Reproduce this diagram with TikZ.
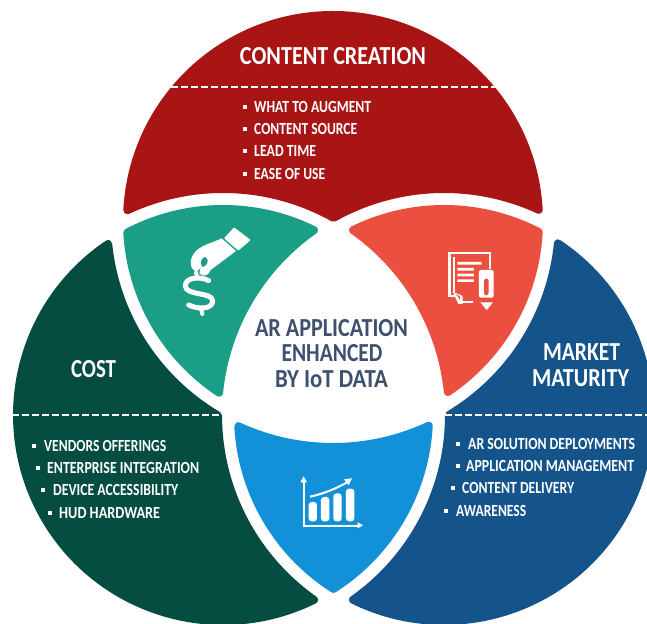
\documentclass[tikz,border=0pt]{standalone}
\usepackage{fontspec}
\usepackage{graphicx}
\setmainfont{Carlito}
\definecolor{cred}{HTML}{A91414}
\definecolor{cgreen}{HTML}{1A9E85}
\definecolor{corange}{HTML}{EB4F3F}
\definecolor{cblue}{HTML}{1291D9}
\definecolor{cdgreen}{HTML}{054D41}
\definecolor{cdblue}{HTML}{14548B}
\definecolor{ctext}{HTML}{3D5070}
% circle centres, in hundreds of pixels, y upward
\def\CTx{3.33}\def\CTy{4.02}
\def\CLx{2.23}\def\CLy{2.08}
\def\CRx{4.44}\def\CRy{2.08}
\def\rO{2.06}\def\rG{2.26}
\newcommand\Isect[6]{%
 \pgfmathsetmacro\ax{\csname C#2x\endcsname}\pgfmathsetmacro\ay{\csname C#2y\endcsname}%
 \pgfmathsetmacro\bx{\csname C#4x\endcsname}\pgfmathsetmacro\by{\csname C#4y\endcsname}%
 \pgfmathsetmacro\ddx{\bx-\ax}\pgfmathsetmacro\ddy{\by-\ay}%
 \pgfmathsetmacro\dd{sqrt(\ddx*\ddx+\ddy*\ddy)}%
 \pgfmathsetmacro\aa{(#3*#3-#5*#5+\dd*\dd)/(2*\dd)}%
 \pgfmathsetmacro\hh{sqrt(#3*#3-\aa*\aa)}%
 \pgfmathsetmacro\qx{\ax+\aa*\ddx/\dd-(#6)*\hh*\ddy/\dd}%
 \pgfmathsetmacro\qy{\ay+\aa*\ddy/\dd+(#6)*\hh*\ddx/\dd}%
 \expandafter\xdef\csname P#1x\endcsname{\qx}%
 \expandafter\xdef\csname P#1y\endcsname{\qy}}
\newcommand\Seg[5]{%
 \pgfmathsetmacro\aone{atan2(\csname P#3y\endcsname-\csname C#1y\endcsname,\csname P#3x\endcsname-\csname C#1x\endcsname)}%
 \pgfmathsetmacro\atwo{atan2(\csname P#4y\endcsname-\csname C#1y\endcsname,\csname P#4x\endcsname-\csname C#1x\endcsname)}%
 \pgfmathsetmacro\atwo{#5>0 ? (\atwo<\aone ? \atwo+360 : \atwo) : (\atwo>\aone ? \atwo-360 : \atwo)}%
 \xdef\pth{\pth arc[start angle=\aone,end angle=\atwo,radius=#2]}}
\newcommand\Region[2]{\fill[#1,draw=#1,line width=8pt,line join=round] (\csname P#2x\endcsname,\csname P#2y\endcsname) \pth -- cycle;\gdef\pth{}}
\gdef\pth{}
\tikzset{
 lab/.style={inner sep=0pt,text=white,font=\bfseries\fontsize{17}{17}\selectfont},
 head/.style={inner sep=0pt,text=white,font=\bfseries\fontsize{26}{26}\selectfont},
 mid/.style={inner sep=0pt,text=ctext,font=\bfseries\fontsize{26}{26}\selectfont},
 sep/.style={white,line width=1.1pt,dash pattern=on 6.5pt off 3.5pt},
 ico/.style={white,line cap=round,line join=round}
}
\newcommand\Item[5]{\fill[white] (#2-2,#4-2) rectangle (#2+2,#4+2);
 \node[lab,anchor=west] (#1) at (#3,#4) {\resizebox{#5pt}{\height}{\ItemText}};}
\begin{document}
\begin{tikzpicture}[x=100pt,y=100pt]
\useasboundingbox (0,0) rectangle (6.47,6.23);
\clip (0,0) rectangle (6.47,6.23);
\fill[white] (0,0) rectangle (6.47,6.23);
% intersection points
\Isect{A}{T}{\rO}{L}{\rG}{-1}
\Isect{B}{L}{\rG}{R}{\rG}{1}
\Isect{C}{T}{\rO}{R}{\rG}{1}
\Isect{D}{T}{\rO}{L}{\rO}{-1}
\Isect{E}{L}{\rO}{R}{\rG}{1}
\Isect{F}{T}{\rO}{R}{\rG}{-1}
\Isect{Ga}{T}{\rO}{R}{\rO}{1}
\Isect{H}{L}{\rG}{R}{\rO}{1}
\Isect{I}{T}{\rO}{L}{\rG}{1}
\Isect{J}{L}{\rO}{R}{\rO}{-1}
\Isect{K}{T}{\rG}{R}{\rO}{-1}
\Isect{M}{T}{\rG}{L}{\rO}{1}
\Isect{N}{T}{\rG}{L}{\rO}{-1}
\Isect{Q}{T}{\rG}{R}{\rG}{-1}
\Isect{S}{L}{\rO}{R}{\rG}{-1}
\Isect{U}{T}{\rG}{R}{\rO}{1}
\Isect{V}{T}{\rG}{L}{\rG}{1}
\Isect{W}{L}{\rG}{R}{\rO}{-1}
% regions
\Seg{T}{\rO}{A}{C}{-1}\Seg{R}{\rG}{C}{B}{1}\Seg{L}{\rG}{B}{A}{1}\Region{cred}{A}
\Seg{L}{\rO}{D}{E}{-1}\Seg{R}{\rG}{E}{F}{1}\Seg{T}{\rO}{F}{D}{-1}\Region{cgreen}{D}
\Seg{R}{\rO}{Ga}{H}{1}\Seg{L}{\rG}{H}{I}{-1}\Seg{T}{\rO}{I}{Ga}{1}\Region{corange}{Ga}
\Seg{T}{\rG}{K}{M}{1}\Seg{L}{\rO}{M}{J}{-1}\Seg{R}{\rO}{J}{K}{-1}\Region{cblue}{K}
\Seg{T}{\rG}{N}{Q}{1}\Seg{R}{\rG}{Q}{S}{1}\Seg{L}{\rO}{S}{N}{-1}\Region{cdgreen}{N}
\Seg{T}{\rG}{U}{V}{-1}\Seg{L}{\rG}{V}{W}{-1}\Seg{R}{\rO}{W}{U}{1}\Region{cdblue}{U}
\begin{scope}[shift={(0pt,623pt)},x=1pt,y=-1pt]
% dashed separators
\coordinate (t1) at (171,87);\coordinate (t2) at (495,87);
\coordinate (l1) at (12,415);\coordinate (l2) at (222,415);
\coordinate (r1) at (445,415);\coordinate (r2) at (647,415);
\draw[sep] (t1)--(t2);\draw[sep] (l1)--(l2);\draw[sep] (r1)--(r2);
% headings
\node[head] (title) at (333,56) {\resizebox{186pt}{\height}{CONTENT CREATION}};
\node[head] (cost) at (93.5,369) {\resizebox{45pt}{\height}{COST}};
\node[head] (mk1) at (581.5,352) {\resizebox{77pt}{\height}{MARKET}};
\node[head] (mk2) at (580.5,378) {\resizebox{97pt}{\height}{MATURITY}};
\node[mid] (c1) at (331.5,328) {\resizebox{153pt}{\height}{AR APPLICATION}};
\node[mid] (c2) at (332,353) {\resizebox{101pt}{\height}{ENHANCED}};
\node[mid] (c3) at (331.5,379) {\resizebox{113pt}{\height}{BY IoT DATA}};
% bullet lists
\def\ItemText{WHAT TO AUGMENT}\Item{a1}{245}{254}{107}{117}
\def\ItemText{CONTENT SOURCE}\Item{a2}{245}{254}{129}{103}
\def\ItemText{LEAD TIME}\Item{a3}{245}{254}{151}{62}
\def\ItemText{EASE OF USE}\Item{a4}{245}{254}{174}{71}
\def\ItemText{VENDORS OFFERINGS}\Item{b1}{34}{44}{446}{122}
\def\ItemText{ENTERPRISE INTEGRATION}\Item{b2}{38}{47}{468}{152}
\def\ItemText{DEVICE ACCESSIBILITY}\Item{b3}{43}{53}{490}{125}
\def\ItemText{HUD HARDWARE}\Item{b4}{50}{59}{513}{101}
\def\ItemText{AR SOLUTION DEPLOYMENTS}\Item{d1}{458}{468}{444}{167}
\def\ItemText{APPLICATION MANAGEMENT}\Item{d2}{458}{466}{466}{168}
\def\ItemText{CONTENT DELIVERY}\Item{d3}{453}{462}{488}{112}
\def\ItemText{AWARENESS}\Item{d4}{446}{456}{511}{70}
% hand and dollar icon
\begin{scope}[shift={(110,190)},x=.3333pt,y=-.3333pt]
\fill[white,rounded corners=1pt] (372,112)--(422,150)--(385,182)--(342,145)--cycle;
\fill[white,even odd rule] (335,145) .. controls (305,160) and (270,165) .. (252,190)
 .. controls (240,205) and (238,228) .. (250,240) .. controls (262,247) and (270,240) .. (272,232)
 -- (268,250) .. controls (280,262) and (295,258) .. (302,240) -- (378,183) -- cycle
 (285,200) .. controls (272,205) and (268,222) .. (278,232) .. controls (290,228) and (302,212) .. (285,200) -- cycle;
\draw[ico,line width=5pt] (296,272) .. controls (270,258) and (225,262) .. (226,288)
 .. controls (228,318) and (305,305) .. (308,332) .. controls (308,360) and (262,358) .. (236,345);
\draw[ico,line width=4pt] (258,248)--(262,262) (274,360)--(277,372);
\end{scope}
% document and pencil icon
\begin{scope}[shift={(340,190)},x=.3333pt,y=-.3333pt]
\draw[white,line width=2.6pt] (450,238)--(450,189)--(329,189)--(329,318)--(345,318);
\draw[white,line width=1.8pt] (360,337)--(400,337) (342,200)--(342,305);
\fill[white] (338,305)--(368,318)--(368,342)--(355,342)--cycle;
\fill[corange] (348,312)--(360,320)--(360,330)--cycle;
\fill[white] (352,216) rectangle (425,224) (352,234) rectangle (402,242) (352,251) rectangle (402,259) (352,268) rectangle (402,276);
\fill[white,rounded corners=1.5pt,even odd rule] (417,240) rectangle (461,323) (432,266) rectangle (446,316);
\fill[white] (421,337)--(459,337)--(440,360)--cycle;
\end{scope}
% chart icon
\begin{scope}[shift={(220,400)},x=.3333pt,y=-.3333pt]
\draw[white,line width=1.8pt] (251,240)--(251,378)--(415,378);
\fill[white] (241,247)--(261,247)--(251,229)--cycle (413,367)--(413,385)--(429,376)--cycle;
\fill[white,rounded corners=3pt]
 (266,306) rectangle (291,364) (303,291) rectangle (328,364) (340,280) rectangle (365,364) (378,266) rectangle (403,364);
\draw[white,line width=2pt] (270,290) .. controls (310,282) and (350,265) .. (385,245);
\fill[white] (372,238)--(396,235)--(386,256)--cycle;
\end{scope}
\end{scope}
\end{tikzpicture}
\end{document}
